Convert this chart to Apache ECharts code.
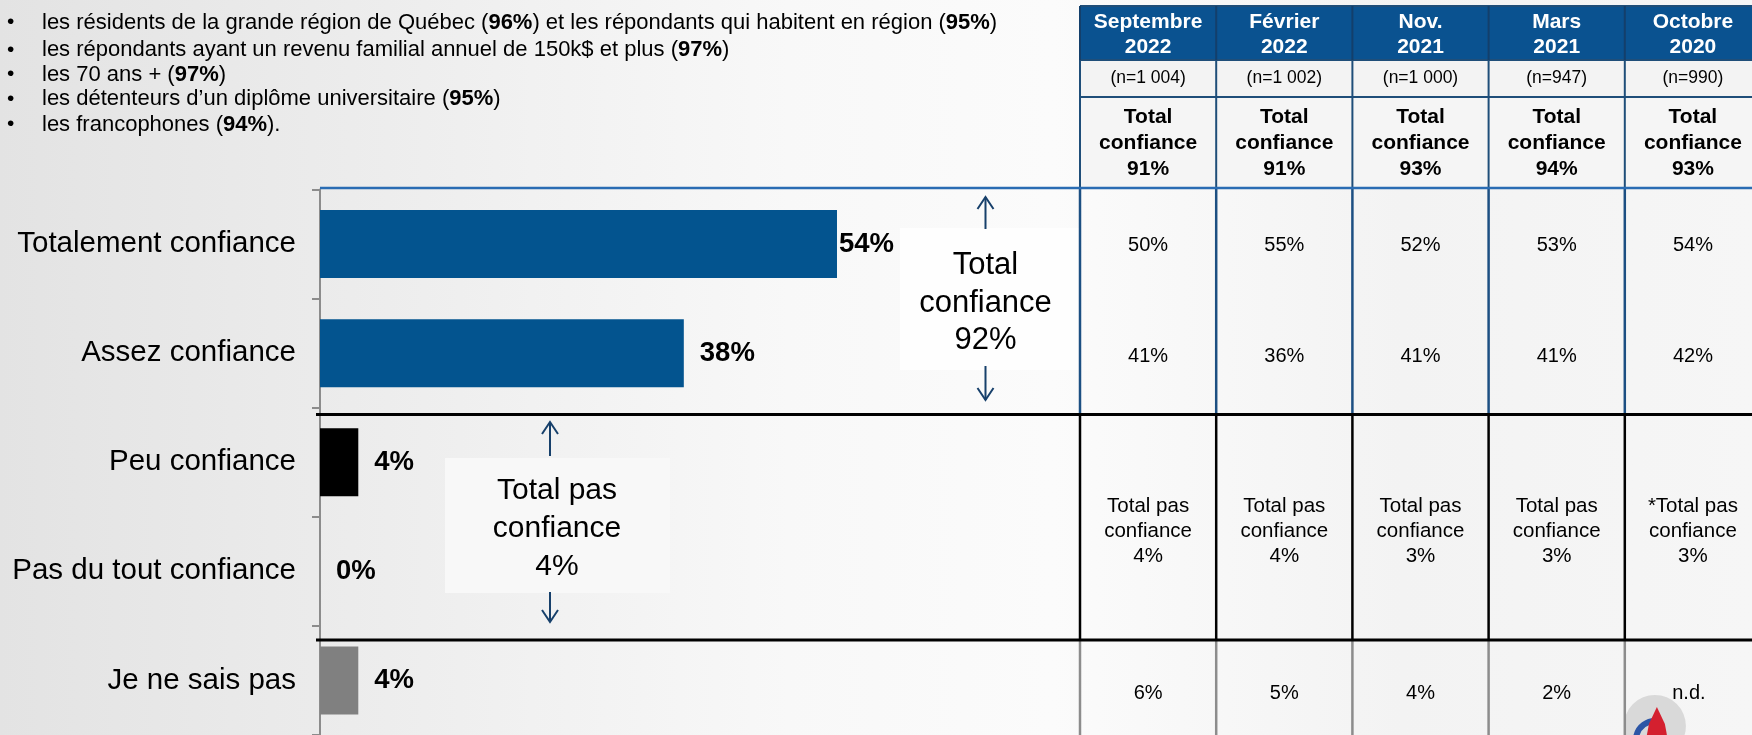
<!DOCTYPE html>
<html><head><meta charset="utf-8">
<script src="https://cdn.jsdelivr.net/npm/echarts@6/dist/echarts.min.js"></script>
<style>html,body{margin:0;padding:0;overflow:hidden;}#c{width:1752px;height:735px;}</style>
</head><body><div id="c"></div>
<script>
// ---------- DATA ----------
const categories = ['Totalement confiance', 'Assez confiance', 'Peu confiance', 'Pas du tout confiance', 'Je ne sais pas'];
const values = [54, 38, 4, 0, 4];
const barColors = ['#03548f', '#03548f', '#000000', '#000000', '#808080'];
const totalConfiance = 92;
const totalPasConfiance = 4;

const periods = ['Septembre\n2022', 'Février\n2022', 'Nov.\n2021', 'Mars\n2021', 'Octobre\n2020'];
const sampleSizes = ['1 004', '1 002', '1 000', '947', '990'];
const histTotalConfiance = [91, 91, 93, 94, 93];
const histTotalement = [50, 55, 52, 53, 54];
const histAssez = [41, 36, 41, 41, 42];
const histTotalPas = [4, 4, 3, 3, 3];
const histTotalPasMark = ['', '', '', '', '*'];
const histNeSaisPas = [6, 5, 4, 2, null];

const bulletLines = [
  ['les résidents de la grande région de Québec (', '96%', ') et les répondants qui habitent en région (', '95%', ')'],
  ['les répondants ayant un revenu familial annuel de 150k$ et plus (', '97%', ')'],
  ['les 70 ans + (', '97%', ')'],
  ['les détenteurs d\u2019un diplôme universitaire (', '95%', ')'],
  ['les francophones (', '94%', ').']
];

// ---------- LAYOUT ----------
const FONT = 'Liberation Sans, Arial, sans-serif';
const chart = echarts.init(document.getElementById('c'));
const g = [];

// annotation boxes
g.push({type: 'rect', shape: {x: 900, y: 228, width: 180, height: 142}, style: {fill: '#fefefe'}, z: 1});
g.push({type: 'rect', shape: {x: 445, y: 458, width: 225, height: 135}, style: {fill: '#f8f8f8'}, z: 1});

// bullets
const bulletY = [22.5, 50, 74.5, 99, 124.5];
bulletLines.forEach((parts, i) => {
  let txt = '';
  parts.forEach((p, k) => { txt += (k % 2 === 1) ? '{b|' + p + '}' : '{n|' + p + '}'; });
  g.push({type: 'text', z: 5, style: {x: 7, y: bulletY[i], text: '\u2022', font: '21px ' + FONT, fill: '#000', verticalAlign: 'middle', textVerticalAlign: 'middle'}});
  g.push({type: 'text', z: 5, style: {x: 42, y: bulletY[i], text: txt, fill: '#000', verticalAlign: 'middle', textVerticalAlign: 'middle',
    rich: {n: {fontSize: 22, fontFamily: FONT, color: '#000'}, b: {fontSize: 22, fontFamily: FONT, fontWeight: 'bold', color: '#000'}}}});
});

// table
const colX0 = 1080, colW = 136.2, nCol = 5;
g.push({type: 'rect', z: 2, shape: {x: colX0, y: 6, width: colW * nCol, height: 54}, style: {fill: '#0a5290'}});
g.push({type: 'rect', z: 2, shape: {x: colX0, y: 60, width: colW * nCol, height: 37}, style: {fill: '#f3f3f3'}});
g.push({type: 'rect', z: 2, shape: {x: colX0, y: 97, width: colW * nCol, height: 90}, style: {fill: '#f5f5f5'}});
[6, 60, 97].forEach(y => g.push({type: 'line', z: 4, shape: {x1: colX0, y1: y, x2: 1752, y2: y}, style: {stroke: '#1f4e79', lineWidth: 2}}));
for (let c = 0; c <= nCol; c++) {
  const x = colX0 + c * colW;
  g.push({type: 'line', z: 4, shape: {x1: x, y1: 6, x2: x, y2: 60}, style: {stroke: '#133f6b', lineWidth: 2}});
  g.push({type: 'line', z: 4, shape: {x1: x, y1: 60, x2: x, y2: 188}, style: {stroke: '#1f4e79', lineWidth: 2}});
  g.push({type: 'line', z: 4, shape: {x1: x, y1: 188, x2: x, y2: 414}, style: {stroke: '#1c4f82', lineWidth: 2.5}});
  g.push({type: 'line', z: 4, shape: {x1: x, y1: 414, x2: x, y2: 640}, style: {stroke: '#000000', lineWidth: 2.5}});
  g.push({type: 'line', z: 4, shape: {x1: x, y1: 640, x2: x, y2: 735}, style: {stroke: '#8c8c8c', lineWidth: 2.5}});
}
g.push({type: 'line', z: 6, shape: {x1: 320, y1: 188, x2: 1752, y2: 188}, style: {stroke: '#2a6cb3', lineWidth: 2.5}});
g.push({type: 'line', z: 6, shape: {x1: 316, y1: 414.5, x2: 1752, y2: 414.5}, style: {stroke: '#000', lineWidth: 3}});
g.push({type: 'line', z: 6, shape: {x1: 316, y1: 640, x2: 1752, y2: 640}, style: {stroke: '#000', lineWidth: 3}});

function ctext(x, y, text, size, opts) {
  opts = opts || {};
  g.push({type: 'text', z: 7, style: {x: x, y: y, text: text,
    font: (opts.bold ? 'bold ' : '') + size + 'px ' + FONT, fill: opts.fill || '#000',
    align: 'center', textAlign: 'center', verticalAlign: 'middle', textVerticalAlign: 'middle',
    lineHeight: opts.lh || size * 1.2}});
}
for (let c = 0; c < nCol; c++) {
  const cx = colX0 + c * colW + colW / 2;
  ctext(cx, 34.5, periods[c], 21, {bold: true, fill: '#fff', lh: 25});
  ctext(cx, 78.5, '(n=' + sampleSizes[c] + ')', 17.5);
  ctext(cx, 143.5, 'Total\nconfiance\n' + histTotalConfiance[c] + '%', 21, {bold: true, lh: 26});
  ctext(cx, 245, histTotalement[c] + '%', 20);
  ctext(cx, 356.5, histAssez[c] + '%', 20);
  ctext(cx, 531, histTotalPasMark[c] + 'Total pas\nconfiance\n' + histTotalPas[c] + '%', 20.5, {lh: 25});
  if (histNeSaisPas[c] === null) {
    g.push({type: 'circle', z: 3, shape: {cx: cx - 38, cy: 726, r: 31}, style: {fill: '#d9d9d9'}});
    g.push({type: 'arc', z: 3, shape: {cx: cx - 38, cy: 740, r: 19, startAngle: Math.PI * 1.05, endAngle: Math.PI * 1.6}, style: {stroke: '#2c56a6', lineWidth: 6, fill: null}});
    g.push({type: 'polygon', z: 3, shape: {points: [[cx - 36, 707], [cx - 28, 724], [cx - 26, 735], [cx - 46, 735], [cx - 44, 724]]}, style: {fill: '#d4202f'}});
    ctext(cx - 4, 693, 'n.d.', 20);
  } else {
    ctext(cx, 693, histNeSaisPas[c] + '%', 20);
  }
}

// annotations
ctext(985.5, 303, 'Total\nconfiance\n' + totalConfiance + '%', 31, {lh: 37.5});
ctext(557, 528.5, 'Total pas\nconfiance\n' + totalPasConfiance + '%', 30, {lh: 38});
function arrow(x, yFrom, yTo) {
  const dir = yTo < yFrom ? 1 : -1;
  g.push({type: 'line', z: 7, shape: {x1: x, y1: yFrom, x2: x, y2: yTo}, style: {stroke: '#17406b', lineWidth: 2}});
  g.push({type: 'polyline', z: 7, shape: {points: [[x - 8, yTo + dir * 12], [x, yTo], [x + 8, yTo + dir * 12]]}, style: {stroke: '#17406b', lineWidth: 2, fill: null}});
}
arrow(985.5, 229, 197);
arrow(985.5, 366, 400);
arrow(550, 456, 422);
arrow(550, 592, 622);

const option = {
  backgroundColor: new echarts.graphic.LinearGradient(0, 0, 1, 0, [
    {offset: 0, color: '#e3e3e3'}, {offset: 0.2, color: '#ececec'}, {offset: 0.45, color: '#f8f8f8'},
    {offset: 0.6, color: '#fbfbfb'}, {offset: 0.8, color: '#f3f3f3'}, {offset: 1, color: '#f6f6f6'}]),
  animation: false,
  grid: {left: 320, top: 189.5, width: 957.4, height: 552.5},
  xAxis: {type: 'value', min: 0, max: 100, show: false},
  yAxis: {
    type: 'category', inverse: true, data: categories,
    axisLine: {show: true, lineStyle: {color: '#8c8c8c', width: 2}},
    axisTick: {show: true, length: 8, lineStyle: {color: '#8c8c8c', width: 2}},
    axisLabel: {fontSize: 29.5, fontFamily: FONT, color: '#000', margin: 24},
    splitLine: {show: false}
  },
  series: [{
    type: 'bar', barWidth: 68, z: 8,
    data: values.map((v, i) => ({value: v, itemStyle: {color: barColors[i]}, label: i === 0 ? {distance: 2} : {}})),
    label: {show: true, position: 'right', distance: 16, formatter: '{c}%', fontSize: 27.5, fontWeight: 'bold', fontFamily: FONT, color: '#000'}
  }],
  graphic: g
};
chart.setOption(option);
</script>
</body></html>
